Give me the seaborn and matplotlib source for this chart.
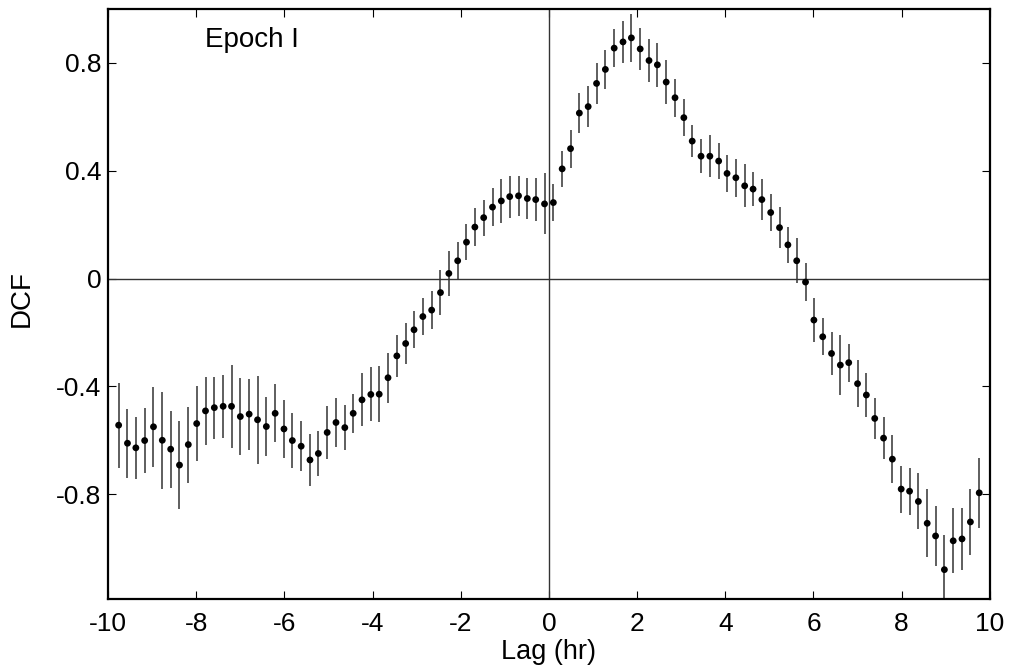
import matplotlib
matplotlib.use("Agg")
import matplotlib.pyplot as plt
import seaborn as sns
import pandas as pd

lag = [-9.76, -9.56, -9.37, -9.17, -8.97, -8.77, -8.58, -8.38, -8.18, -7.99,
       -7.79, -7.59, -7.39, -7.20, -7.00, -6.80, -6.61, -6.41, -6.21, -6.01,
       -5.82, -5.62, -5.42, -5.23, -5.03, -4.83, -4.63, -4.44, -4.24, -4.04,
       -3.85, -3.65, -3.45, -3.25, -3.06, -2.86, -2.66, -2.46, -2.27, -2.07,
       -1.87, -1.68, -1.48, -1.28, -1.08, -0.89, -0.69, -0.49, -0.30, -0.10,
       0.10, 0.30, 0.49, 0.69, 0.89, 1.08, 1.28, 1.48, 1.68, 1.87,
       2.07, 2.27, 2.46, 2.66, 2.86, 3.06, 3.25, 3.45, 3.65, 3.85,
       4.04, 4.24, 4.44, 4.63, 4.83, 5.03, 5.23, 5.42, 5.62, 5.82,
       6.01, 6.21, 6.41, 6.61, 6.80, 7.00, 7.20, 7.39, 7.59, 7.79,
       7.99, 8.18, 8.38, 8.58, 8.77, 8.97, 9.17, 9.37, 9.56, 9.76]

dcf = [-0.544, -0.611, -0.628, -0.601, -0.550, -0.600, -0.633, -0.692, -0.616, -0.538,
       -0.491, -0.479, -0.474, -0.474, -0.512, -0.503, -0.524, -0.549, -0.500, -0.558,
       -0.601, -0.622, -0.673, -0.649, -0.571, -0.534, -0.553, -0.500, -0.450, -0.430,
       -0.429, -0.368, -0.287, -0.241, -0.190, -0.141, -0.117, -0.052, 0.019, 0.066,
       0.135, 0.191, 0.226, 0.265, 0.288, 0.304, 0.307, 0.297, 0.293, 0.277,
       0.282, 0.407, 0.482, 0.614, 0.638, 0.724, 0.776, 0.855, 0.878, 0.893,
       0.852, 0.809, 0.793, 0.729, 0.671, 0.597, 0.510, 0.454, 0.454, 0.436,
       0.390, 0.374, 0.344, 0.332, 0.293, 0.245, 0.189, 0.125, 0.066, -0.013,
       -0.154, -0.216, -0.278, -0.321, -0.312, -0.390, -0.432, -0.519, -0.592, -0.670,
       -0.781, -0.789, -0.827, -0.908, -0.955, -1.080, -0.973, -0.966, -0.903, -0.795]

err = [0.158, 0.128, 0.114, 0.121, 0.148, 0.179, 0.143, 0.163, 0.141, 0.139,
       0.127, 0.115, 0.117, 0.153, 0.143, 0.132, 0.163, 0.110, 0.108, 0.106,
       0.103, 0.092, 0.095, 0.085, 0.100, 0.090, 0.083, 0.073, 0.098, 0.100,
       0.104, 0.092, 0.078, 0.075, 0.068, 0.068, 0.070, 0.083, 0.085, 0.071,
       0.068, 0.070, 0.067, 0.071, 0.082, 0.078, 0.074, 0.077, 0.079, 0.113,
       0.069, 0.066, 0.070, 0.074, 0.075, 0.076, 0.072, 0.070, 0.078, 0.088,
       0.078, 0.079, 0.082, 0.082, 0.070, 0.069, 0.059, 0.063, 0.078, 0.067,
       0.068, 0.071, 0.080, 0.064, 0.075, 0.068, 0.077, 0.068, 0.083, 0.071,
       0.082, 0.068, 0.078, 0.112, 0.070, 0.087, 0.080, 0.077, 0.078, 0.089,
       0.087, 0.087, 0.104, 0.126, 0.110, 0.130, 0.120, 0.115, 0.122, 0.131]

xticks = [-10, -8, -6, -4, -2, 0, 2, 4, 6, 8, 10]
xticklabels = ["-10", "-8", "-6", "-4", "-2", "0", "2", "4", "6", "8", "10"]
yticks = [-0.8, -0.4, 0, 0.4, 0.8]
yticklabels = ["-0.8", "-0.4", "0", "0.4", "0.8"]

df = pd.DataFrame({"lag": lag, "dcf": dcf, "err": err})

sns.set_theme(style="ticks")
plt.rcParams['font.family'] = ['Liberation Sans', 'DejaVu Sans']
plt.rcParams['text.color'] = 'black'
plt.rcParams['axes.labelcolor'] = 'black'

fig = plt.figure(figsize=(10.1, 6.69), dpi=100)
ax = fig.add_axes([0.107, 0.1042, 0.873, 0.8823])

ax.axhline(0, color="#333333", lw=1.0, zorder=1)
ax.axvline(0, color="#333333", lw=1.0, zorder=1)

ax.errorbar(df["lag"], df["dcf"], yerr=df["err"], fmt="none",
            ecolor="#333333", elinewidth=1.1, capsize=0, zorder=2)
sns.scatterplot(data=df, x="lag", y="dcf", color="black", s=24,
                edgecolor="none", linewidth=0, ax=ax, zorder=3, legend=False)

ax.set_xlim(-10, 10)
ax.set_ylim(-1.19, 1.0)
ax.set_xticks(xticks)
ax.set_xticklabels(xticklabels)
ax.set_yticks(yticks)
ax.set_yticklabels(yticklabels)
ax.tick_params(direction="in", length=6, width=0.8, top=True, right=True,
               labelsize=19, colors="black")
ax.tick_params(axis="x", pad=9)
ax.tick_params(axis="y", pad=5)
for s in ax.spines.values():
    s.set_linewidth(1.6)
    s.set_color("black")

ax.set_xlabel("Lag (hr)", fontsize=19.5, color="black")
ax.xaxis.set_label_coords(0.5, -0.068)
ax.set_ylabel("DCF", fontsize=20, color="black")
ax.yaxis.set_label_coords(-0.083, 0.51)
ax.text(-7.8, 0.885, "Epoch I", fontsize=20, va="center", ha="left", color="black")

fig.savefig("out.png", dpi=100)
